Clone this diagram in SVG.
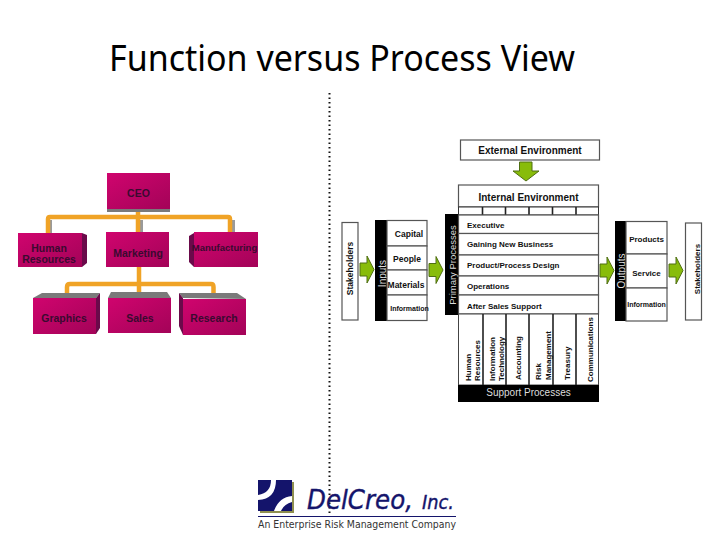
<svg xmlns="http://www.w3.org/2000/svg" width="720" height="540" viewBox="0 0 720 540">
<style>
text{font-family:"Liberation Sans",Arial,sans-serif}
.t{font-weight:bold;font-size:10.500px;fill:#3a0a30;text-anchor:middle}
.f{fill:url(#mag)}
.s{fill:#6a0a4a}
.top{fill:#7a7a7a}
.o{fill:none;stroke:#f0a326;stroke-width:4.500;stroke-linejoin:round}
.og{fill:none;stroke:#9a9a9a;stroke-width:4;stroke-linejoin:round}
.b{fill:#fff;stroke:#555;stroke-width:1.200}
.k{fill:#000}
.l{font-weight:bold;font-size:8px;fill:#111}
.m{font-weight:bold;font-size:8.500px;fill:#111;text-anchor:middle}
.v{font-size:9.500px;fill:#ddd;text-anchor:middle}
.g{fill:#88bc0a;stroke:#4f6f12;stroke-width:1}
.d{stroke:#222;stroke-width:1.600}
.lg{font-family:"DejaVu Sans",sans-serif;font-style:italic;fill:#14146b;stroke:#14146b;stroke-width:.4}
</style>
<defs>
<linearGradient id="mag" x1="0" y1="0" x2="1" y2="1"><stop offset="0" stop-color="#d0046e"/><stop offset="1" stop-color="#a30358"/></linearGradient>
<path id="arr" d="M0 7H7V0L14 13.500L7 27V20H0Z"/>
</defs>
<rect width="720" height="540" fill="#fff"/>
<text x="342" y="71" font-size="36" fill="#000" text-anchor="middle" textLength="466" lengthAdjust="spacingAndGlyphs" style="font-family:'Noto Sans','Open Sans',sans-serif">Function versus Process View</text>
<path d="M329.500 93V515" stroke="#111" stroke-width="2" stroke-dasharray="1.500 3" fill="none"/>
<g id="connectors">
<path class="og" d="M50 234V220M233 234V220M141 220V233"/>
<path class="o" d="M48 233V219Q48 217 50 217H228Q230 217 230 219V233M138 210V232"/>
<path class="o" d="M139 267V294M67 295V287Q67 284 70 284H211Q213.500 284 213.500 287V296"/>
<path class="g" d="M519.500 162H532V171H539L526 181L513 171H519.500Z"/>
<use href="#arr" class="g" x="360" y="256"/>
<use href="#arr" class="g" x="429" y="256.500"/>
<use href="#arr" class="g" x="600" y="257"/>
<use href="#arr" class="g" x="669" y="257"/>
</g>
<g id="ceo"><rect x="107" y="205" width="63" height="7" class="top"/><rect x="107" y="173" width="63" height="36" class="f"/><text class="t" x="138.500" y="197">CEO</text></g>
<g id="hr"><path class="s" d="M82 233L87 235V263L82 267Z"/><rect x="18" y="233" width="64" height="34" class="f"/><text class="t" x="49" y="252">Human</text><text class="t" x="49" y="263">Resources</text></g>
<g id="marketing"><rect x="106" y="232" width="63" height="35" class="f"/><text class="t" x="138" y="257">Marketing</text></g>
<g id="manufacturing"><path class="s" d="M194 233L189 236V262L194 267Z"/><rect x="194" y="232" width="64" height="35" class="f"/><text class="t" x="224.500" y="251" style="font-size:9.500px">Manufacturing</text></g>
<g id="graphics"><path class="top" d="M33 298L42 293H100L96 298Z"/><path class="s" d="M96 298L100 293V328L96 334Z"/><rect x="33" y="298" width="63" height="36" class="f"/><text class="t" x="64" y="322">Graphics</text></g>
<g id="sales"><path class="top" d="M108 298L111 292H167L171 298Z"/><rect x="108" y="298" width="63" height="35" class="f"/><text class="t" x="140" y="322">Sales</text></g>
<g id="research"><path class="top" d="M183 298L179 293H237L246 299Z"/><path class="s" d="M183 298L179 293V326L183 335Z"/><rect x="183" y="299" width="63" height="36" class="f"/><text class="t" x="214" y="322">Research</text></g>

<g id="external"><rect class="b" x="460.500" y="140" width="139" height="20"/><text x="530" y="153.500" text-anchor="middle" font-size="10" font-weight="bold" fill="#111">External Environment</text></g>
<g id="internal">
<rect class="b" x="458.500" y="185" width="140" height="22"/><text x="528.500" y="200.500" text-anchor="middle" font-size="10" font-weight="bold" fill="#111">Internal Environment</text>
<rect x="458.500" y="207" width="140" height="8" fill="#fff" stroke="#333"/>
<path class="d" d="M482.500 207V215M505.500 207V215M529 207V215M552.500 207V215M576 207V215"/>
</g>
<g id="primary">
<rect class="k" x="445" y="214" width="13.500" height="101"/>
<text class="v" transform="translate(456 265) rotate(-90)">Primary Processes</text>
<rect class="b" x="458.500" y="215" width="140" height="18.500"/><text class="l" x="467" y="227.500">Executive</text>
<rect class="b" x="458.500" y="233.500" width="140" height="21.500"/><text class="l" x="467" y="247">Gaining New Business</text>
<rect class="b" x="458.500" y="255" width="140" height="21"/><text class="l" x="467" y="268">Product/Process Design</text>
<rect class="b" x="458.500" y="276" width="140" height="19"/><text class="l" x="467" y="289">Operations</text>
<rect class="b" x="458.500" y="295" width="140" height="19"/><text class="l" x="467" y="308.500">After Sales Support</text>
</g>
<g id="support">
<rect x="458.500" y="314" width="140" height="71" fill="#fff" stroke="#444"/>
<path class="d" d="M483 314V385M506 314V385M529 314V385M553 314V385M576 314V385"/>
<g font-size="8" font-weight="bold" fill="#111" text-anchor="start">
<text transform="translate(471 381) rotate(-90)">Human</text>
<text transform="translate(480 381) rotate(-90)">Resources</text>
<text transform="translate(495 381) rotate(-90)">Information</text>
<text transform="translate(504 381) rotate(-90)">Technology</text>
<text transform="translate(521 380) rotate(-90)">Accounting</text>
<text transform="translate(541 380) rotate(-90)">Risk</text>
<text transform="translate(551 380) rotate(-90)">Management</text>
<text transform="translate(570 380) rotate(-90)">Treasury</text>
<text transform="translate(593 382) rotate(-90)">Communications</text>
</g>
<rect class="k" x="458" y="385" width="141" height="17"/>
<text x="528.500" y="396" font-size="10" fill="#ddd" text-anchor="middle">Support Processes</text>
</g>
<g id="stakeholders-left"><rect class="b" x="342" y="222.500" width="16" height="97.500"/><text class="m" transform="translate(353 268.500) rotate(-90)">Stakeholders</text></g>
<g id="inputs">
<rect class="k" x="375" y="220" width="12" height="101"/>
<text class="v" transform="translate(386 273.500) rotate(-90)" style="font-size:10px">Inputs</text>
<rect class="b" x="387" y="220.500" width="40" height="25.500"/><text class="m" x="409" y="237">Capital</text>
<rect class="b" x="387" y="246" width="40" height="24"/><text class="m" x="407" y="261.500">People</text>
<rect class="b" x="387" y="270" width="40" height="25"/><text class="m" x="406" y="288">Materials</text>
<rect class="b" x="387" y="295" width="40" height="25.500"/><text class="m" x="409.500" y="311" style="font-size:7px">Information</text>
</g>
<g id="outputs">
<rect class="k" x="615" y="221" width="11" height="100"/>
<text class="v" transform="translate(625 271) rotate(-90)" style="font-size:10px">Outputs</text>
<rect class="b" x="626" y="221.500" width="41" height="32.500"/><text class="m" x="646.500" y="242" style="font-size:8px">Products</text>
<rect class="b" x="626" y="254" width="41" height="34"/><text class="m" x="646.500" y="276" style="font-size:8px">Service</text>
<rect class="b" x="626" y="288" width="41" height="33"/><text class="m" x="646.500" y="307" style="font-size:7px">Information</text>
</g>
<g id="stakeholders-right"><rect class="b" x="685.500" y="223" width="16" height="97"/><text class="m" transform="translate(700 269) rotate(-90)" style="font-size:8px">Stakeholders</text></g>
<g id="logo">
<path fill="#8f8f50" d="M292 482H294V513H260V511H292Z"/>
<path fill="#14146b" d="M258 480H271Q271 493 258 495ZM276 480H292V496Q279 497 274 511H258V500Q276 499 276 480ZM281 511Q284 504 292 502V511Z"/>
<text class="lg" x="307" y="509" font-size="27" textLength="106" lengthAdjust="spacingAndGlyphs">DelCreo,</text>
<text class="lg" x="422" y="509" font-size="19" textLength="32" lengthAdjust="spacingAndGlyphs">Inc.</text>
<path d="M258 516.500H456" stroke="#14146b" stroke-width="1.200"/>
<text x="258" y="528" font-size="10.500" fill="#333" textLength="198" lengthAdjust="spacingAndGlyphs" style="font-family:'DejaVu Sans',sans-serif">An Enterprise Risk Management Company</text>
</g>
</svg>
